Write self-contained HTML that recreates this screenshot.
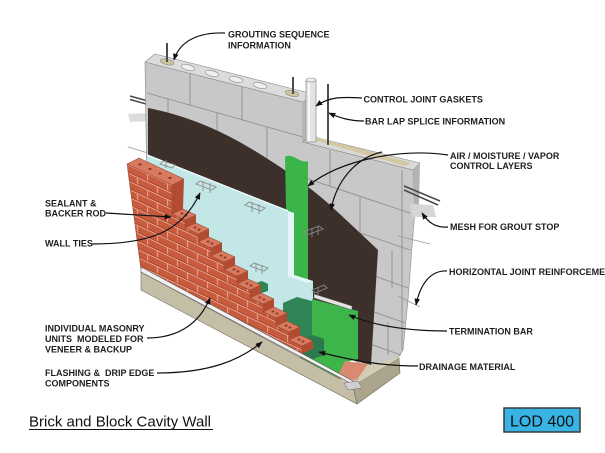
<!DOCTYPE html>
<html><head><meta charset="utf-8">
<style>
html,body{margin:0;padding:0;background:#fff;width:605px;height:453px;overflow:hidden}
svg{display:block}
.l{font-family:"Liberation Sans",Arial,sans-serif;font-weight:bold;font-size:9px;fill:#1e1e1e}
</style></head><body>
<svg width="605" height="453" viewBox="0 0 605 453" xmlns="http://www.w3.org/2000/svg">
<defs>
<pattern id="brick" patternUnits="userSpaceOnUse" width="20" height="16" patternTransform="translate(127,164) skewY(25)">
<rect width="20" height="16" fill="#c85a3e"/>
<path d="M0,0.5H20M0,8.5H20" stroke="#e7a58d" stroke-width="1.1"/>
<path d="M0.5,0V8M10.5,8V16" stroke="#e7a58d" stroke-width="1.1"/>
<path d="M0,7.4H20M0,15.4H20" stroke="#9d3f2b" stroke-width="0.7"/>
</pattern>
<marker id="ah" viewBox="0 0 10 10" refX="9" refY="5" markerWidth="7" markerHeight="7" orient="auto" markerUnits="userSpaceOnUse"><path d="M0,1L10,5L0,9Z" fill="#111"/></marker>
</defs>

<!-- left protrusions -->
<polygon points="128,114 147,113 148,121 130,122" fill="#dcdcdc"/>
<line x1="130" y1="96" x2="148" y2="101" stroke="#4a4a4a" stroke-width="1.5"/>
<line x1="130" y1="99.5" x2="148" y2="104.5" stroke="#4a4a4a" stroke-width="1.5"/>
<line x1="128" y1="147" x2="148" y2="153" stroke="#999" stroke-width="0.8"/>

<!-- CMU front face -->
<path d="M145,62 L303,102 L303,142 L413,170 L415,210 L412,247 L408,300 L403,350 L398,358 L370,368 L148,262 Z" fill="#c8c8c8" stroke="#8a8a8a" stroke-width="0.6"/>
<!-- CMU joints -->
<g stroke="#8e8e8e" stroke-width="0.9" fill="none">
<line x1="147" y1="93" x2="303" y2="137"/>
<line x1="147" y1="125" x2="410" y2="213"/>
<line x1="147" y1="160" x2="410" y2="250"/>
<line x1="147" y1="195" x2="408" y2="288"/>
<line x1="147" y1="230" x2="405" y2="323"/>
<line x1="147" y1="265" x2="401" y2="355"/>
<line x1="190" y1="73" x2="190" y2="105"/>
<line x1="242" y1="86" x2="242" y2="120"/>
<line x1="168" y1="99" x2="168" y2="132"/>
<line x1="217" y1="113" x2="217" y2="148"/>
<line x1="267" y1="127" x2="267" y2="165"/>
<line x1="330" y1="150" x2="330" y2="186"/>
<line x1="360" y1="196" x2="360" y2="232"/>
<line x1="392" y1="250" x2="392" y2="288"/>
<line x1="388" y1="322" x2="388" y2="355"/>
<line x1="402" y1="170" x2="402" y2="350"/>
</g>
<!-- upper top face -->
<polygon points="145,62 155,54 313,94 303,102" fill="#dcdcdc" stroke="#8a8a8a" stroke-width="0.6"/>
<g stroke="#8a8a8a" stroke-width="0.6">
<ellipse cx="167" cy="62" rx="7" ry="2.8" transform="rotate(14 167 62)" fill="#cfc39c"/>
<ellipse cx="188" cy="67.5" rx="7" ry="2.8" transform="rotate(14 188 67.5)" fill="#efefef"/>
<ellipse cx="212" cy="73.5" rx="7" ry="2.8" transform="rotate(14 212 73.5)" fill="#efefef"/>
<ellipse cx="236" cy="79.5" rx="7" ry="2.8" transform="rotate(14 236 79.5)" fill="#efefef"/>
<ellipse cx="260" cy="85.5" rx="7" ry="2.8" transform="rotate(14 260 85.5)" fill="#efefef"/>
<ellipse cx="292" cy="93.5" rx="7" ry="2.8" transform="rotate(14 292 93.5)" fill="#cfc39c"/>
</g>
<!-- side face at control joint -->
<polygon points="303,102 313,94 313,136 303,142" fill="#b6b6b6"/>
<!-- right section top face -->
<polygon points="303,142 310,136 420,163 413,170" fill="#d9d9d9" stroke="#8a8a8a" stroke-width="0.6"/>
<polygon points="314,140 320,138 411,163 405,166" fill="#d3c8a2"/>
<polygon points="413,170 420,163 419,205 415,210" fill="#b3b3b3"/>
<!-- rebar / joint pipe -->
<line x1="167" y1="43" x2="167" y2="62" stroke="#4d4d4d" stroke-width="2"/>
<line x1="293" y1="77" x2="293" y2="94" stroke="#4d4d4d" stroke-width="2"/>
<rect x="306" y="80" width="10" height="62" fill="#e3e3e3" stroke="#8c8c8c" stroke-width="0.7"/>
<line x1="309" y1="82" x2="309" y2="141" stroke="#fff" stroke-width="1.5"/>
<ellipse cx="311" cy="80" rx="5" ry="2" fill="#efefef" stroke="#8c8c8c" stroke-width="0.6"/>
<line x1="328" y1="84" x2="328" y2="145" stroke="#4d4d4d" stroke-width="2"/>
<line x1="404" y1="186" x2="440" y2="201" stroke="#4a4a4a" stroke-width="1.6"/>
<line x1="404" y1="190" x2="438" y2="205" stroke="#4a4a4a" stroke-width="1.6"/>
<polygon points="410,204 433,205 436,217 412,217" fill="#d6d6d6"/>
<line x1="398" y1="236" x2="430" y2="244" stroke="#999" stroke-width="0.9"/>
<line x1="398" y1="296" x2="420" y2="307" stroke="#999" stroke-width="0.9"/>

<!-- brown air barrier -->
<path d="M148,108 Q200,118 250,148 Q300,178 330,205 Q355,228 378,250 L371,365 L300,345 L148,262 Z" fill="#3d302b"/>

<!-- green strip (behind board) -->
<path d="M285,157 C292,152 300,164 308,161 L308,300 L288,300 Z" fill="#3bb44a"/>
<!-- board -->
<polygon points="147,155 288,211 294,213 294,275 313,281 313,300 300,348 141,270" fill="#c3e7e7"/>
<polygon points="288,211 294,213 294,275 288,276" fill="#e4f6f6"/>
<polygon points="288,276 294,275 313,281 307,283" fill="#e4f6f6"/>
<line x1="147" y1="155" x2="288" y2="211" stroke="#eaf8f8" stroke-width="1.5"/>

<!-- wall ties -->
<g stroke="#8a8a8a" stroke-width="0.9" fill="none">
<path d="M160,164 l12,4 l3,-3 l-12,-4 z M166,160 v8"/>
<path d="M196,184 l16,6 l4,-3 l-16,-6 z M203,181 v10 M210,183 v10"/>
<path d="M245,205 l16,6 l4,-3 l-16,-6 z M252,202 v10 M259,204 v10"/>
<path d="M250,266 l14,5 l4,-3 l-14,-5 z M256,263 v9 M262,265 v9"/>
<path d="M303,232 l16,-6 l4,3 l-16,6 z M312,228 v9 M318,226 v9"/>
<path d="M312,290 l12,-5 l3,3 l-12,5 z M318,287 v8"/>
</g>

<!-- green lower panel -->
<polygon points="312,299 358,311 358,359 346,362 336,379 318,375 300,360 300,350 312,346" fill="#3db54b"/>
<!-- salmon -->
<polygon points="345,361 368,364 357,380 336,379" fill="#d98a70"/>
<!-- termination bar -->
<polygon points="314,294 352,306 352,310 314,298" fill="#e4e4e4" stroke="#555" stroke-width="0.5"/>
<!-- drainage mats -->
<polygon points="283,303 297,297 312,301 312,342 298,348 283,344" fill="#2f8556"/>
<polygon points="300,340 313,335 324,339 324,355 310,360 300,357" fill="#2a7a4e"/>
<polygon points="253,284 262,281 268,284 268,291 258,294 253,292" fill="#2f8556"/>

<!-- bricks -->
<path d="M127,164 L172,185 L172,214 L185,220 L185,228 L198,234 L198,242 L211,248 L211,256 L224,262 L224,270 L237,276 L237,284 L250,290 L250,298 L263,304 L263,312 L276,318 L276,326 L289,332 L289,340 L302,346 L302,354 L141,270 Z" fill="url(#brick)" stroke="#8a3826" stroke-width="0.5"/>
<polygon points="127,164 172,185 184,179 139,158" fill="#d77a5f" stroke="#8a3826" stroke-width="0.5"/>
<polygon points="172,185 184,179 183,209 172,214" fill="#b14c33"/>
<g fill="#d77a5f" stroke="#8a3826" stroke-width="0.5">
<polygon points="172,214 185,220 196,215 183,209"/>
<polygon points="185,228 198,234 209,229 196,223"/>
<polygon points="198,242 211,248 222,243 209,237"/>
<polygon points="211,256 224,262 235,257 222,251"/>
<polygon points="224,270 237,276 248,271 235,265"/>
<polygon points="237,284 250,290 261,285 248,279"/>
<polygon points="250,298 263,304 274,299 261,293"/>
<polygon points="263,312 276,318 287,313 274,307"/>
<polygon points="276,326 289,332 300,327 287,321"/>
<polygon points="289,340 302,346 313,341 300,335"/>
</g>
<g fill="#b14c33">
<polygon points="185,220 196,215 196,223 185,228"/>
<polygon points="198,234 209,229 209,237 198,242"/>
<polygon points="211,248 222,243 222,251 211,256"/>
<polygon points="224,262 235,257 235,265 224,270"/>
<polygon points="237,276 248,271 248,279 237,284"/>
<polygon points="250,290 261,285 261,293 250,298"/>
<polygon points="263,304 274,299 274,307 263,312"/>
<polygon points="276,318 287,313 287,321 276,326"/>
<polygon points="289,332 300,327 300,335 289,340"/>
<polygon points="302,346 313,341 313,349 302,354"/>
</g>
<g fill="#8e3a29">
<ellipse cx="140" cy="164.5" rx="1.6" ry="1.1"/><ellipse cx="150" cy="169" rx="1.6" ry="1.1"/><ellipse cx="160" cy="173.5" rx="1.6" ry="1.1"/><ellipse cx="170" cy="178" rx="1.6" ry="1.1"/>
<ellipse cx="182" cy="213.5" rx="1.5" ry="1"/><ellipse cx="186" cy="215.5" rx="1.5" ry="1"/>
<ellipse cx="195" cy="227.5" rx="1.5" ry="1"/><ellipse cx="199" cy="229.5" rx="1.5" ry="1"/>
<ellipse cx="208" cy="241.5" rx="1.5" ry="1"/><ellipse cx="212" cy="243.5" rx="1.5" ry="1"/>
<ellipse cx="221" cy="255.5" rx="1.5" ry="1"/><ellipse cx="225" cy="257.5" rx="1.5" ry="1"/>
<ellipse cx="234" cy="269.5" rx="1.5" ry="1"/><ellipse cx="238" cy="271.5" rx="1.5" ry="1"/>
<ellipse cx="247" cy="283.5" rx="1.5" ry="1"/><ellipse cx="251" cy="285.5" rx="1.5" ry="1"/>
<ellipse cx="260" cy="297.5" rx="1.5" ry="1"/><ellipse cx="264" cy="299.5" rx="1.5" ry="1"/>
<ellipse cx="273" cy="311.5" rx="1.5" ry="1"/><ellipse cx="277" cy="313.5" rx="1.5" ry="1"/>
<ellipse cx="286" cy="325.5" rx="1.5" ry="1"/><ellipse cx="290" cy="327.5" rx="1.5" ry="1"/>
<ellipse cx="299" cy="339.5" rx="1.5" ry="1"/><ellipse cx="303" cy="341.5" rx="1.5" ry="1"/>
</g>

<!-- footing -->
<polygon points="141,272 353,386 357,404 141,290" fill="#c4bea6" stroke="#6f6a5c" stroke-width="0.6"/>
<polygon points="353,386 399,358 400,373 357,404" fill="#aca58e" stroke="#6f6a5c" stroke-width="0.6"/>
<polygon points="338,379 357,380 368,364 372,366 398,357 399,358 353,386" fill="#d3cdb6"/>
<!-- drip edge -->
<polygon points="141,267 353,381 356,386 141,272" fill="#f2f2f2" stroke="#555" stroke-width="0.6"/>
<polygon points="344,383 358,381 362,388 348,390" fill="#d0d0d0" stroke="#666" stroke-width="0.5"/>

<!-- leaders -->
<g stroke="#111" stroke-width="1.2" fill="none" marker-end="url(#ah)">
<path d="M225,33 C200,32 180,40 174,60"/>
<path d="M362,98 C345,97 330,96 316,106"/>
<path d="M364,121 C350,121 340,118 329,113"/>
<path d="M448,155 C400,148 340,160 308,186"/>
<path d="M382,152 C355,158 336,182 331,210"/>
<path d="M448,227 C435,228 428,222 422,213"/>
<path d="M447,271 C430,270 420,285 416,305"/>
<path d="M447,331 C400,331 370,324 349,315"/>
<path d="M418,366 C380,366 350,360 319,352"/>
<path d="M106,213 L171,217"/>
<path d="M92,244 C150,244 182,232 200,193"/>
<path d="M147,338 C180,338 200,322 210,298"/>
<path d="M157,373 C210,373 240,360 262,342"/>
</g>

<!-- labels -->
<text class="l" x="228" y="37.5">GROUTING SEQUENCE</text>
<text class="l" x="228" y="48.3">INFORMATION</text>
<text class="l" x="363.5" y="102.3">CONTROL JOINT GASKETS</text>
<text class="l" x="365" y="124.5">BAR LAP SPLICE INFORMATION</text>
<text class="l" x="450" y="158.8">AIR / MOISTURE / VAPOR</text>
<text class="l" x="450" y="169">CONTROL LAYERS</text>
<text class="l" x="450" y="229.8">MESH FOR GROUT STOP</text>
<text class="l" x="449" y="275">HORIZONTAL JOINT REINFORCEMENT</text>
<text class="l" x="449" y="334.3">TERMINATION BAR</text>
<text class="l" x="419" y="370">DRAINAGE MATERIAL</text>
<text class="l" x="45" y="206.7">SEALANT &amp;</text>
<text class="l" x="45" y="216.5">BACKER ROD</text>
<text class="l" x="45" y="246.7">WALL TIES</text>
<text class="l" x="45" y="331.7">INDIVIDUAL MASONRY</text>
<text class="l" x="45" y="341.9" xml:space="preserve">UNITS  MODELED FOR</text>
<text class="l" x="45" y="352.3">VENEER &amp; BACKUP</text>
<text class="l" x="45" y="376" xml:space="preserve">FLASHING &amp;  DRIP EDGE</text>
<text class="l" x="45" y="386.7">COMPONENTS</text>

<text x="29" y="426.5" font-family="Liberation Sans, Arial, sans-serif" font-size="15" fill="#111">Brick and Block Cavity Wall</text>
<line x1="29" y1="429.5" x2="213" y2="429.5" stroke="#111" stroke-width="1.1"/>

<rect x="504" y="408" width="76" height="24" fill="#37b3e5" stroke="#3a3a3a" stroke-width="1.5"/>
<text x="542" y="426.5" text-anchor="middle" font-family="Liberation Sans, Arial, sans-serif" font-size="16" fill="#111">LOD 400</text>
</svg>
</body></html>
